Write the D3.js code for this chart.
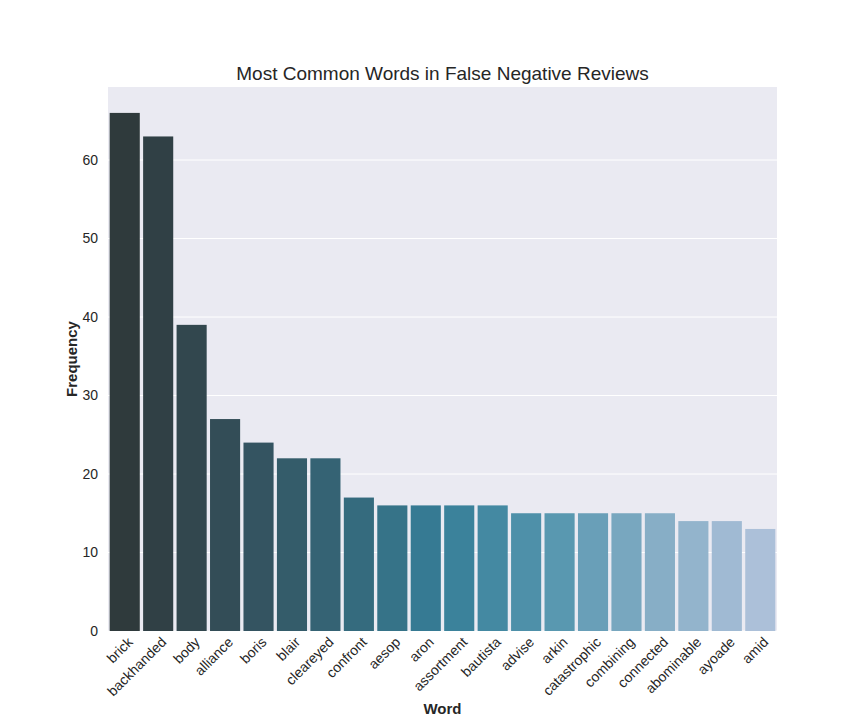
<!DOCTYPE html>
<html><head><meta charset="utf-8">
<script src="https://cdn.jsdelivr.net/npm/d3@7"></script>
<style>body{margin:0;background:#fff;font-family:"Liberation Sans",Arial,sans-serif}</style>
</head><body><svg id="chart" width="864" height="720"></svg>
<script>
var words = ["brick","backhanded","body","alliance","boris","blair","cleareyed","confront","aesop","aron","assortment","bautista","advise","arkin","catastrophic","combining","connected","abominable","ayoade","amid"];
var freq = [66,63,39,27,24,22,22,17,16,16,16,16,15,15,15,15,15,14,14,13];
var yTicks = [0,10,20,30,40,50,60];
var palette = ["#2f3a3c","#334e59","#356677","#367e98","#5495ae","#85adc5","#acc0d9"];

var svg = d3.select("#chart");
var mLeft = 108, mRight = 777, mTop = 87, mBottom = 631;

var x = d3.scaleBand().domain(words).range([mLeft, mRight]).paddingInner(0.1).paddingOuter(0.05);
var y = d3.scaleLinear().domain([0, 69.3]).range([mBottom, mTop]);
var col = d3.scaleLinear().domain(d3.range(palette.length).map(function(i){return i*(words.length-1)/(palette.length-1);})).range(palette);

svg.append("rect").attr("x",mLeft).attr("y",mTop).attr("width",mRight-mLeft).attr("height",mBottom-mTop).attr("fill","#eaeaf2");

svg.append("g").selectAll("line").data(yTicks).enter().append("line")
  .attr("x1",mLeft).attr("x2",mRight).attr("y1",function(d){return y(d);}).attr("y2",function(d){return y(d);})
  .attr("stroke","#fff").attr("stroke-width",1);

svg.append("g").selectAll("rect").data(words).enter().append("rect")
  .attr("x",function(d){return x(d);}).attr("width",x.bandwidth())
  .attr("y",function(d,i){return y(freq[i]);}).attr("height",function(d,i){return mBottom-y(freq[i]);})
  .attr("fill",function(d,i){return col(i);});

var ya = svg.append("g").attr("transform","translate("+mLeft+",0)").call(d3.axisLeft(y).tickValues(yTicks).tickSize(0).tickPadding(10));
ya.select(".domain").remove();
ya.selectAll("text").attr("font-size",14).attr("fill","#262626").attr("font-family","Liberation Sans, Arial, sans-serif");

var xa = svg.append("g").attr("transform","translate(0,"+mBottom+")").call(d3.axisBottom(x).tickSize(0).tickPadding(0));
xa.select(".domain").remove();
xa.selectAll("text").attr("font-size",14).attr("fill","#262626").attr("font-family","Liberation Sans, Arial, sans-serif")
  .attr("text-anchor","end").attr("dy","0").attr("y",0)
  .attr("transform","translate(9,12) rotate(-45)");

svg.append("text").attr("x",(mLeft+mRight)/2).attr("y",80).attr("text-anchor","middle")
  .attr("font-size",19).attr("fill","#262626").text("Most Common Words in False Negative Reviews");
svg.append("text").attr("x",(mLeft+mRight)/2).attr("y",714).attr("text-anchor","middle")
  .attr("font-size",15).attr("font-weight","bold").attr("fill","#262626").text("Word");
svg.append("text").attr("transform","translate(77,"+(mTop+mBottom)/2+") rotate(-90)").attr("text-anchor","middle")
  .attr("font-size",15).attr("font-weight","bold").attr("fill","#262626").text("Frequency");
</script></body></html>
